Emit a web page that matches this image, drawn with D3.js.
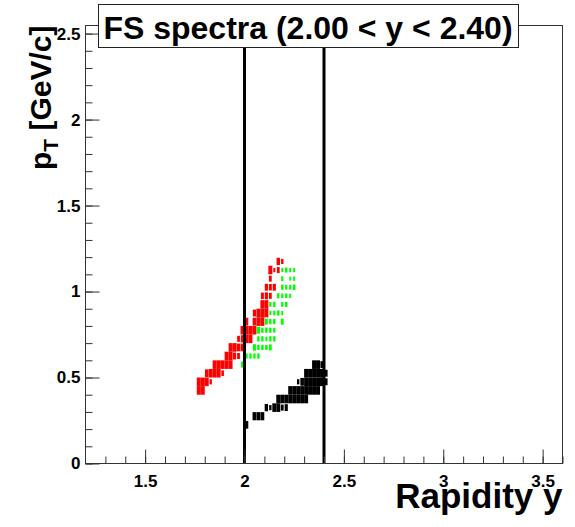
<!DOCTYPE html>
<html>

<head>
    <meta charset="utf-8">
    <title>FS spectra</title>
    <script src="https://d3js.org/d3.v7.min.js"></script>
    <style>
        html,
        body {
            margin: 0;
            padding: 0;
            background: white;
        }

        text {
            font-family: "Liberation Sans", Arial, Helvetica, sans-serif;
            font-weight: bold;
        }
    </style>
</head>

<body>

    <div id="chart"></div>

    <script>
        // Histogram binning (rapidity x pT)
        const binWidthY = 0.02;
        const binWidthPt = 0.05;

        // Bins: [rapidity centre, pT centre, relative box size]
        const redBins = [
            [1.77, 0.425, 1], [1.79, 0.425, 1],
            [1.77, 0.475, 1], [1.79, 0.475, 1], [1.81, 0.475, 1], [1.83, 0.475, 0.6],
            [1.81, 0.525, 0.9], [1.83, 0.525, 1], [1.85, 0.525, 1], [1.87, 0.525, 1], [1.89, 0.525, 0.65],
            [1.85, 0.575, 1], [1.87, 0.575, 1], [1.89, 0.575, 1], [1.91, 0.575, 1], [1.93, 0.575, 1],
            [1.91, 0.625, 1], [1.93, 0.625, 1], [1.95, 0.625, 0.8], [1.97, 0.625, 0.7],
            [1.93, 0.675, 1], [1.95, 0.675, 1], [1.97, 0.675, 0.9], [1.99, 0.675, 0.9],
            [1.97, 0.725, 0.7], [1.99, 0.725, 0.85], [2.01, 0.725, 1], [2.03, 0.725, 1],
            [1.99, 0.775, 1], [2.01, 0.775, 1], [2.03, 0.775, 1], [2.05, 0.775, 1],
            [2.01, 0.825, 0.9], [2.05, 0.825, 0.9], [2.07, 0.825, 1], [2.09, 0.825, 1],
            [2.05, 0.875, 0.8], [2.07, 0.875, 1], [2.09, 0.875, 1], [2.11, 0.875, 1],
            [2.09, 0.925, 1], [2.11, 0.925, 1],
            [2.09, 0.975, 0.75], [2.11, 0.975, 0.8], [2.13, 0.975, 0.7],
            [2.11, 1.025, 0.8], [2.13, 1.025, 0.75], [2.15, 1.025, 0.8],
            [2.13, 1.075, 0.7],
            [2.13, 1.125, 1], [2.15, 1.125, 0.5], [2.17, 1.125, 0.7],
            [2.17, 1.175, 0.85], [2.19, 1.175, 0.6]
        ];

        const greenBins = [
            [1.99, 0.575, 0.7],
            [2.01, 0.625, 0.6], [2.03, 0.625, 0.6], [2.05, 0.625, 0.6], [2.07, 0.625, 0.6],
            [2.05, 0.675, 0.75], [2.07, 0.675, 0.6], [2.09, 0.675, 0.6], [2.11, 0.675, 0.6], [2.13, 0.675, 0.7],
            [2.07, 0.725, 0.6], [2.09, 0.725, 0.6], [2.11, 0.725, 0.5], [2.13, 0.725, 0.6], [2.15, 0.725, 0.6],
            [2.07, 0.775, 0.8], [2.09, 0.775, 0.6], [2.11, 0.775, 0.6], [2.13, 0.775, 0.6], [2.15, 0.775, 0.55],
            [2.11, 0.825, 0.7], [2.13, 0.825, 0.6], [2.15, 0.825, 0.6], [2.19, 0.825, 0.7],
            [2.13, 0.875, 0.5], [2.15, 0.875, 0.55], [2.17, 0.875, 0.6], [2.19, 0.875, 0.5],
            [2.13, 0.925, 0.55], [2.15, 0.925, 0.6], [2.19, 0.925, 0.55], [2.21, 0.925, 0.6],
            [2.17, 0.975, 0.6], [2.19, 0.975, 0.55], [2.21, 0.975, 0.55], [2.23, 0.975, 0.5],
            [2.19, 1.025, 0.6], [2.21, 1.025, 0.55], [2.23, 1.025, 0.55], [2.25, 1.025, 0.65],
            [2.19, 1.075, 0.55], [2.23, 1.075, 0.45], [2.25, 1.075, 0.5],
            [2.19, 1.125, 0.5], [2.21, 1.125, 0.6], [2.23, 1.125, 0.5], [2.25, 1.125, 0.5]
        ];

        const blackBins = [
            [2.01, 0.225, 0.9],
            [2.05, 0.275, 0.95], [2.07, 0.275, 0.95], [2.09, 0.275, 0.95],
            [2.11, 0.325, 0.85], [2.13, 0.325, 0.6], [2.15, 0.325, 1], [2.17, 0.325, 1], [2.19, 0.325, 0.7], [2.21, 0.325, 0.8],
            [2.17, 0.375, 1], [2.19, 0.375, 1], [2.21, 0.375, 1], [2.23, 0.375, 1], [2.25, 0.375, 1], [2.27, 0.375, 1], [2.29, 0.375, 1], [2.31, 0.375, 1],
            [2.23, 0.425, 1], [2.25, 0.425, 1], [2.27, 0.425, 1], [2.29, 0.425, 1], [2.31, 0.425, 1], [2.33, 0.425, 1], [2.35, 0.425, 1], [2.37, 0.425, 1],
            [2.27, 0.475, 0.6], [2.29, 0.475, 0.9], [2.31, 0.475, 1], [2.33, 0.475, 1], [2.35, 0.475, 1], [2.37, 0.475, 1], [2.39, 0.475, 1], [2.41, 0.475, 0.8],
            [2.31, 0.525, 1], [2.33, 0.525, 1], [2.35, 0.525, 1], [2.37, 0.525, 1], [2.39, 0.525, 1], [2.41, 0.525, 0.8],
            [2.35, 0.575, 1], [2.37, 0.575, 1], [2.39, 0.575, 0.8]
        ];

        // Rapidity window lines
        const cutLines = [2.0, 2.4];

        // Axis ranges and tick labels
        const xDomain = [1.2, 3.6];
        const yDomain = [0, 2.547];
        const xMajorTicks = [1.5, 2, 2.5, 3, 3.5];
        const xMinorTicks = d3.range(13, 37).map((d) => d / 10);
        const yMajorTicks = [0, 0.5, 1, 1.5, 2, 2.5];
        const yMinorTicks = d3.range(0, 26).map((d) => d / 10);

        const titleText = "FS spectra (2.00 < y < 2.40)";

        // Layout
        const W = 575, H = 527;
        const margins = { top: 25.5, right: 12.5, bottom: 63.5, left: 85.5 };
        const width = W - margins.left - margins.right;
        const height = H - margins.top - margins.bottom;

        const svg = d3.select("#chart")
            .append("svg")
            .attr("width", W)
            .attr("height", H);

        svg.append("rect")
            .attr("width", W)
            .attr("height", H)
            .attr("fill", "white");

        const chartArea = svg.append("g")
            .attr("transform", `translate(${margins.left},${margins.top})`);

        // Scales
        const xScale = d3.scaleLinear().domain(xDomain).range([0, width]);
        const yScale = d3.scaleLinear().domain(yDomain).range([height, 0]);

        // Boxes for each histogram
        const drawBoxes = (bins, color) => {
            chartArea.append("g")
                .selectAll("rect")
                .data(bins)
                .enter()
                .append("rect")
                .attr("x", (d) => xScale(d[0] - binWidthY * d[2] / 2))
                .attr("y", (d) => yScale(d[1] + binWidthPt * d[2] / 2))
                .attr("width", (d) => xScale(xDomain[0] + binWidthY * d[2]) - xScale(xDomain[0]))
                .attr("height", (d) => yScale(yDomain[0]) - yScale(yDomain[0] + binWidthPt * d[2]))
                .attr("fill", color);
        };

        drawBoxes(redBins, "#ff0000");
        drawBoxes(greenBins, "#00ff00");
        drawBoxes(blackBins, "#000000");

        // Vertical cut lines
        chartArea.selectAll(".cut")
            .data(cutLines)
            .enter()
            .append("line")
            .attr("x1", (d) => xScale(d))
            .attr("x2", (d) => xScale(d))
            .attr("y1", 0)
            .attr("y2", height)
            .attr("stroke", "black")
            .attr("stroke-width", 3);

        // Frame
        chartArea.append("rect")
            .attr("width", width)
            .attr("height", height)
            .attr("fill", "none")
            .attr("stroke", "#333")
            .attr("stroke-width", 1);

        // Axes (ticks pointing inward)
        const axisColor = "#333";

        const xMinor = chartArea.append("g")
            .attr("transform", `translate(0,${height})`)
            .call(d3.axisBottom(xScale).tickValues(xMinorTicks).tickSize(-7).tickFormat(""));

        const xMajor = chartArea.append("g")
            .attr("transform", `translate(0,${height})`)
            .call(d3.axisBottom(xScale).tickValues(xMajorTicks).tickSize(-14).tickPadding(11)
                .tickFormat(d3.format("~g")));

        const yMinor = chartArea.append("g")
            .call(d3.axisLeft(yScale).tickValues(yMinorTicks).tickSize(-7).tickFormat(""));

        const yMajor = chartArea.append("g")
            .call(d3.axisLeft(yScale).tickValues(yMajorTicks).tickSize(-14).tickPadding(5)
                .tickFormat(d3.format("~g")));

        [xMinor, xMajor, yMinor, yMajor].forEach((ax) => {
            ax.select(".domain").remove();
            ax.selectAll("line").attr("stroke", axisColor);
            ax.selectAll("text")
                .attr("fill", "black")
                .style("font-size", "17px")
                .style("font-family", "'Liberation Sans', Arial, sans-serif")
                .style("font-weight", "bold");
        });

        // Axis titles
        svg.append("text")
            .attr("x", margins.left + width)
            .attr("y", 508)
            .attr("text-anchor", "end")
            .style("font-size", "35px")
            .text("Rapidity y");

        const yTitle = svg.append("text")
            .attr("transform", `translate(51,${margins.top}) rotate(-90)`)
            .attr("text-anchor", "end")
            .style("font-size", "30px");
        yTitle.append("tspan").text("p");
        yTitle.append("tspan").attr("dy", 7).style("font-size", "21px").text("T");
        yTitle.append("tspan").attr("dy", -7).text(" [GeV/c]");

        // Title box
        svg.append("rect")
            .attr("x", 98.5)
            .attr("y", 4.5)
            .attr("width", 420)
            .attr("height", 43)
            .attr("fill", "white")
            .attr("stroke", "#222")
            .attr("stroke-width", 1);

        svg.append("text")
            .attr("x", 308)
            .attr("y", 39)
            .attr("text-anchor", "middle")
            .style("font-size", "32px")
            .text(titleText);
    </script>
</body>

</html>
